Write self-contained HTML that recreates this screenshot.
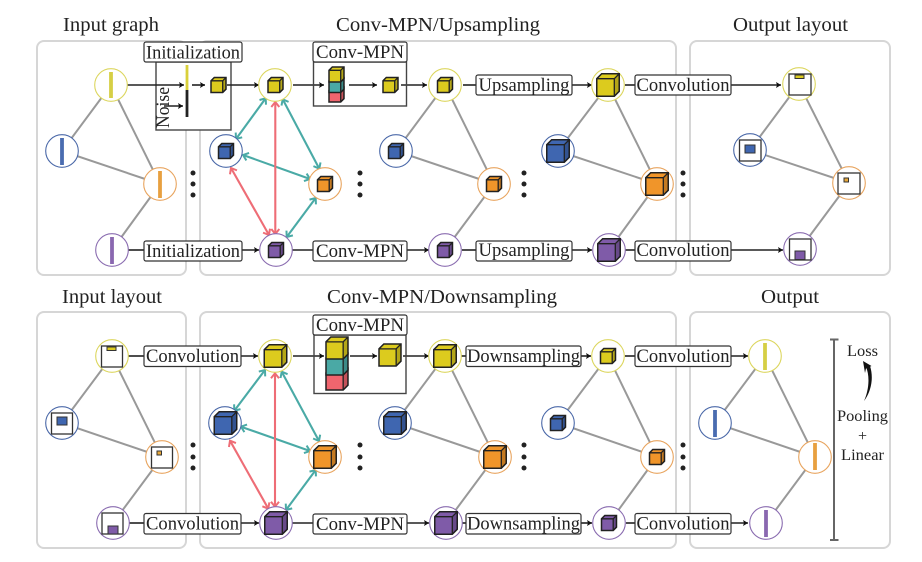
<!DOCTYPE html>
<html><head><meta charset="utf-8"><style>
html,body{margin:0;padding:0;background:#fff}
svg{display:block}
text{font-family:"Liberation Serif",serif;fill:#222}
.t{font-size:20px}.l{font-size:18.5px}.s{font-size:16px}
.p{fill:none;stroke:#d6d6d6;stroke-width:2}
.e{stroke:#999;stroke-width:2;fill:none}
.a{stroke:#222;stroke-width:1.6;fill:none;marker-end:url(#k)}
.n{stroke:#222;stroke-width:1.6;fill:none}
.b{fill:#fff;stroke:#333;stroke-width:1.2}
.tl{stroke:#4aaaa6;stroke-width:2.1;fill:none;marker-start:url(#mt);marker-end:url(#mt)}
.rd{stroke:#ee6d76;stroke-width:2.1;fill:none;marker-start:url(#mr);marker-end:url(#mr)}
.cy{fill:#fff;stroke:#dcd65e;stroke-width:1.1}.cb{fill:#fff;stroke:#4a68a8;stroke-width:1.1}
.co{fill:#fff;stroke:#e8a45e;stroke-width:1.1}.cp{fill:#fff;stroke:#8a6cb0;stroke-width:1.1}
.q{fill:#fff;stroke:#333;stroke-width:1.3}
.i{stroke:#333;stroke-width:1}
</style></head><body>
<svg width="922" height="562" viewBox="0 0 922 562" xmlns="http://www.w3.org/2000/svg">
<defs>
<marker id="k" markerUnits="userSpaceOnUse" markerWidth="10" markerHeight="10" viewBox="-7 -5 10 10" refX="0" refY="0" orient="auto"><path d="M-5,-3 L0,0 L-5,3 L-4,0Z" fill="#111"/></marker>
<marker id="mt" markerUnits="userSpaceOnUse" markerWidth="14" markerHeight="14" viewBox="-8 -7 14 14" refX="0" refY="0" orient="auto-start-reverse"><path d="M-5,-4 L0,0 L-5,4" fill="none" stroke="#4aaaa6" stroke-width="2"/></marker>
<marker id="mr" markerUnits="userSpaceOnUse" markerWidth="14" markerHeight="14" viewBox="-8 -7 14 14" refX="0" refY="0" orient="auto-start-reverse"><path d="M-5,-4 L0,0 L-5,4" fill="none" stroke="#ee6d76" stroke-width="2"/></marker>
<g id="c">
<path d="M-.5,-.28 L-.28,-.5 L.5,-.5 L.5,.28 L.28,.5 L-.5,.5Z" stroke="#222" stroke-width="1.5" vector-effect="non-scaling-stroke"/>
<path d="M.28,-.28 L.5,-.5 L.5,.28 L.28,.5Z" fill="#000" fill-opacity=".18"/>
<path d="M-.5,-.28 L.28,-.28 L.28,.5 M.28,-.28 L.5,-.5" fill="none" stroke="#222" stroke-width="1.3" vector-effect="non-scaling-stroke"/>
</g>
</defs>
<rect width="922" height="562" fill="#fff"/>

<!-- panels -->
<rect class="p" x="37" y="41" width="149" height="234" rx="7"/>
<rect class="p" x="200" y="41" width="476" height="234" rx="7"/>
<rect class="p" x="690" y="41" width="200" height="234" rx="7"/>
<rect class="p" x="37" y="312" width="149" height="236" rx="7"/>
<rect class="p" x="200" y="312" width="476" height="236" rx="7"/>
<rect class="p" x="690" y="312" width="200" height="236" rx="7"/>

<!-- titles -->
<text class="t" x="63" y="31" textLength="96" lengthAdjust="spacingAndGlyphs">Input graph</text>
<text class="t" x="336" y="31" textLength="204" lengthAdjust="spacingAndGlyphs">Conv-MPN/Upsampling</text>
<text class="t" x="733" y="31" textLength="115" lengthAdjust="spacingAndGlyphs">Output layout</text>
<text class="t" x="62" y="303" textLength="100" lengthAdjust="spacingAndGlyphs">Input layout</text>
<text class="t" x="327" y="303" textLength="230" lengthAdjust="spacingAndGlyphs">Conv-MPN/Downsampling</text>
<text class="t" x="761" y="303" textLength="58" lengthAdjust="spacingAndGlyphs">Output</text>

<!-- graph edges -->
<path class="e" d="M111,85L62,151L160,184L111,85M160,184L112,250"/>
<path class="e" d="M445,85L396,151L494,184L445,85M494,184L445,250"/>
<path class="e" d="M608,85L558,151L657,184L608,85M657,184L609,250"/>
<path class="e" d="M799,84L750,150L849,183L799,84M849,183L800,249"/>
<path class="e" d="M112,356L62,423L162,457L112,356M162,457L113,523"/>
<path class="e" d="M445,356L395,423L495,457L445,356M495,457L446,523"/>
<path class="e" d="M608,356L558,423L657,457L608,356M657,457L609,523"/>
<path class="e" d="M765,356L715,423L815,457L765,356M815,457L766,523"/>

<!-- top straight connectors -->
<path class="a" d="M293,85H324"/><path class="a" d="M349,85H377"/><path class="a" d="M401,85H427"/>
<path class="n" d="M463,85H476"/><path class="a" d="M572,85H592"/><path class="n" d="M625,85H635"/><path class="a" d="M731,85H781"/>
<path class="n" d="M128,250H144"/><path class="a" d="M242,250H259"/><path class="n" d="M292,250H313"/><path class="a" d="M407,250H429"/>
<path class="n" d="M462,250H476"/><path class="a" d="M572,250H592"/><path class="n" d="M625,250H635"/><path class="a" d="M731,250H783"/>
<!-- bottom straight connectors -->
<path class="n" d="M128,356H144"/><path class="a" d="M241,356H258"/><path class="a" d="M293,356H324"/><path class="a" d="M350,356H377"/><path class="a" d="M403,356H429"/>
<path class="n" d="M461,356H466"/><path class="a" d="M581,356H591"/><path class="n" d="M625,356H635"/><path class="a" d="M731,356H748"/>
<path class="n" d="M129,523H144"/><path class="a" d="M241,523H259"/><path class="n" d="M292,523H313"/><path class="a" d="M407,523H429"/>
<path class="n" d="M461,523H466"/><path class="a" d="M581,523H592"/><path class="n" d="M626,523H635"/><path class="a" d="M731,523H748"/>

<!-- init + conv-mpn boxes -->
<rect x="156" y="62" width="75" height="68" fill="#fff" stroke="#444" stroke-width="1.4"/>
<path d="M187,65V90" stroke="#d9d03a" stroke-width="2.8"/><path d="M187,90V117" stroke="#222" stroke-width="2.8"/>
<path class="a" d="M192,85H205"/><path class="a" d="M164,106H183"/><path class="a" d="M127,85H184"/><path class="a" d="M227,85H259"/>
<text class="l" transform="translate(169,128) rotate(-90)" textLength="41" lengthAdjust="spacingAndGlyphs">Noise</text>
<rect x="313.500" y="62" width="93" height="44" fill="none" stroke="#444" stroke-width="1.4"/>
<rect x="314" y="335" width="92" height="58.500" fill="none" stroke="#444" stroke-width="1.4"/>

<!-- message arrows -->
<path class="tl" d="M265.700,98.300L236,139"/><path class="tl" d="M282.700,99.300L319.300,168.700"/><path class="tl" d="M243,155L310,179"/><path class="tl" d="M315.700,198L286.700,237"/>
<path class="rd" d="M275.300,102V234"/><path class="rd" d="M231,168L269,235"/>
<path class="tl" d="M265,370L234.300,410.700"/><path class="tl" d="M281.700,371.700L319,441"/><path class="tl" d="M241,426.700L310,451"/><path class="tl" d="M315.700,470L286,510"/>
<path class="rd" d="M275,373.300V506.700"/><path class="rd" d="M230,440.700L268.300,508.700"/>

<!-- labels -->
<g>
<rect class="b" x="144" y="42" width="98" height="20" rx="2"/><text class="l" x="146" y="58.500" textLength="94" lengthAdjust="spacingAndGlyphs">Initialization</text>
<rect class="b" x="313" y="42" width="94" height="20" rx="2"/><text class="l" x="316" y="58" textLength="88" lengthAdjust="spacingAndGlyphs">Conv-MPN</text>
<rect class="b" x="476" y="75" width="96" height="20" rx="2"/><text class="l" x="478.500" y="91" textLength="91" lengthAdjust="spacingAndGlyphs">Upsampling</text>
<rect class="b" x="635" y="75" width="96" height="20" rx="2"/><text class="l" x="636.500" y="91" textLength="93" lengthAdjust="spacingAndGlyphs">Convolution</text>
<rect class="b" x="144" y="241" width="98" height="20" rx="2"/><text class="l" x="146" y="257" textLength="94" lengthAdjust="spacingAndGlyphs">Initialization</text>
<rect class="b" x="313" y="241" width="94" height="20" rx="2"/><text class="l" x="316" y="257" textLength="88" lengthAdjust="spacingAndGlyphs">Conv-MPN</text>
<rect class="b" x="476" y="241" width="96" height="20" rx="2"/><text class="l" x="478.500" y="256" textLength="91" lengthAdjust="spacingAndGlyphs">Upsampling</text>
<rect class="b" x="635" y="241" width="96" height="20" rx="2"/><text class="l" x="636.500" y="256" textLength="93" lengthAdjust="spacingAndGlyphs">Convolution</text>

<rect class="b" x="144" y="346" width="97" height="20.500" rx="2"/><text class="l" x="146" y="362" textLength="93" lengthAdjust="spacingAndGlyphs">Convolution</text>
<rect class="b" x="313" y="315" width="94" height="20" rx="2"/><text class="l" x="316" y="331" textLength="88" lengthAdjust="spacingAndGlyphs">Conv-MPN</text>
<rect class="b" x="466" y="346" width="115" height="20.500" rx="2"/><text class="l" x="467" y="362" textLength="113" lengthAdjust="spacingAndGlyphs">Downsampling</text>
<rect class="b" x="635" y="346" width="96" height="20.500" rx="2"/><text class="l" x="636.500" y="362" textLength="93" lengthAdjust="spacingAndGlyphs">Convolution</text>
<rect class="b" x="144" y="513.500" width="97" height="20.500" rx="2"/><text class="l" x="146" y="529.500" textLength="93" lengthAdjust="spacingAndGlyphs">Convolution</text>
<rect class="b" x="313" y="514" width="94" height="20" rx="2"/><text class="l" x="316" y="530" textLength="88" lengthAdjust="spacingAndGlyphs">Conv-MPN</text>
<rect class="b" x="466" y="513.500" width="115" height="20.500" rx="2"/><text class="l" x="467" y="529.500" textLength="113" lengthAdjust="spacingAndGlyphs">Downsampling</text>
<rect class="b" x="635" y="513.500" width="96" height="20.500" rx="2"/><text class="l" x="636.500" y="529.500" textLength="93" lengthAdjust="spacingAndGlyphs">Convolution</text>
</g>

<!-- top input graph nodes -->
<circle class="cy" cx="111" cy="85" r="16.300"/><path d="M111,72V98" stroke="#d6cf45" stroke-width="3.800"/>
<circle class="cb" cx="62" cy="151" r="16.300"/><path d="M62,138V165" stroke="#4a6cb0" stroke-width="3.800"/>
<circle class="co" cx="160" cy="184" r="16.300"/><path d="M160,171V198" stroke="#e8a040" stroke-width="3.800"/>
<circle class="cp" cx="112" cy="250" r="16.300"/><path d="M112,237V264" stroke="#8a68b0" stroke-width="3.800"/>

<!-- conv graphs: circles -->
<g>
<circle class="cy" cx="275" cy="85" r="16.300"/><circle class="cb" cx="226" cy="151" r="16.300"/><circle class="co" cx="325" cy="184" r="16.300"/><circle class="cp" cx="276" cy="250" r="16.300"/>
<circle class="cy" cx="445" cy="85" r="16.300"/><circle class="cb" cx="396" cy="151" r="16.300"/><circle class="co" cx="494" cy="184" r="16.300"/><circle class="cp" cx="445" cy="250" r="16.300"/>
<circle class="cy" cx="608" cy="85" r="16.300"/><circle class="cb" cx="558" cy="151" r="16.300"/><circle class="co" cx="657" cy="184" r="16.300"/><circle class="cp" cx="609" cy="250" r="16.300"/>
<circle class="cy" cx="275" cy="356" r="16.300"/><circle class="cb" cx="225" cy="423" r="16.300"/><circle class="co" cx="325" cy="457" r="16.300"/><circle class="cp" cx="276" cy="523" r="16.300"/>
<circle class="cy" cx="445" cy="356" r="16.300"/><circle class="cb" cx="395" cy="423" r="16.300"/><circle class="co" cx="495" cy="457" r="16.300"/><circle class="cp" cx="446" cy="523" r="16.300"/>
<circle class="cy" cx="608" cy="356" r="16.300"/><circle class="cb" cx="558" cy="423" r="16.300"/><circle class="co" cx="657" cy="457" r="16.300"/><circle class="cp" cx="609" cy="523" r="16.300"/>
</g>

<!-- cubes -->
<g>
<use href="#c" transform="translate(218.500,85) scale(15)" fill="#dccb1e"/>
<use href="#c" transform="translate(275.500,85) scale(15)" fill="#dccb1e"/>
<use href="#c" transform="translate(226,151) scale(15)" fill="#3f66b0"/>
<use href="#c" transform="translate(325,184) scale(15)" fill="#f0952a"/>
<use href="#c" transform="translate(276,250) scale(15)" fill="#7f5ba8"/>
<use href="#c" transform="translate(336.500,94.500) scale(15)" fill="#f0656e"/>
<use href="#c" transform="translate(336.500,85) scale(15)" fill="#4aa9a5"/>
<use href="#c" transform="translate(336.500,74.500) scale(15)" fill="#dccb1e"/>
<use href="#c" transform="translate(390.500,85) scale(15)" fill="#dccb1e"/>
<use href="#c" transform="translate(445,85) scale(15)" fill="#dccb1e"/>
<use href="#c" transform="translate(396,151) scale(15)" fill="#3f66b0"/>
<use href="#c" transform="translate(494,184) scale(15)" fill="#f0952a"/>
<use href="#c" transform="translate(445,250) scale(15)" fill="#7f5ba8"/>
<use href="#c" transform="translate(608,85) scale(22.500)" fill="#dccb1e"/>
<use href="#c" transform="translate(558,151) scale(22.500)" fill="#3f66b0"/>
<use href="#c" transform="translate(657,184) scale(22.500)" fill="#f0952a"/>
<use href="#c" transform="translate(609,250) scale(22.500)" fill="#7f5ba8"/>

<use href="#c" transform="translate(275.500,356) scale(22.500)" fill="#dccb1e"/>
<use href="#c" transform="translate(225.500,423) scale(22.500)" fill="#3f66b0"/>
<use href="#c" transform="translate(325,457) scale(22.500)" fill="#f0952a"/>
<use href="#c" transform="translate(276,523) scale(22.500)" fill="#7f5ba8"/>
<use href="#c" transform="translate(337,379) scale(22)" fill="#f0656e"/>
<use href="#c" transform="translate(337,364) scale(22)" fill="#4aa9a5"/>
<use href="#c" transform="translate(337,348) scale(22)" fill="#dccb1e"/>
<use href="#c" transform="translate(390,355) scale(22)" fill="#dccb1e"/>
<use href="#c" transform="translate(445,356) scale(22.500)" fill="#dccb1e"/>
<use href="#c" transform="translate(395,423) scale(22.500)" fill="#3f66b0"/>
<use href="#c" transform="translate(495,457) scale(22.500)" fill="#f0952a"/>
<use href="#c" transform="translate(446,523) scale(22.500)" fill="#7f5ba8"/>
<use href="#c" transform="translate(608,356) scale(15)" fill="#dccb1e"/>
<use href="#c" transform="translate(558,423) scale(15)" fill="#3f66b0"/>
<use href="#c" transform="translate(657,457) scale(15)" fill="#f0952a"/>
<use href="#c" transform="translate(609,523) scale(15)" fill="#7f5ba8"/>
</g>

<!-- output layout -->
<circle class="cy" cx="799" cy="84" r="16.300"/><rect class="q" x="789" y="74" width="22" height="21"/><rect class="i" x="795" y="75" width="9" height="3.500" fill="#dccb1e"/>
<circle class="cb" cx="750" cy="150" r="16.300"/><rect class="q" x="739.500" y="140" width="21.500" height="21"/><rect class="i" x="745" y="145" width="10" height="8" fill="#3f66b0"/>
<circle class="co" cx="849" cy="183" r="16.300"/><rect class="q" x="838" y="173" width="22" height="21"/><rect class="i" x="844" y="178" width="4.500" height="4" fill="#e8a83a"/>
<circle class="cp" cx="800" cy="249" r="16.300"/><rect class="q" x="789.500" y="239" width="21.500" height="21"/><rect class="i" x="795" y="251" width="10" height="8.500" fill="#7f5ba8"/>

<!-- input layout -->
<circle class="cy" cx="112" cy="356" r="16.300"/><rect class="q" x="101.500" y="346" width="21" height="21"/><rect class="i" x="107" y="347" width="9" height="3.500" fill="#dccb1e"/>
<circle class="cb" cx="62" cy="423" r="16.300"/><rect class="q" x="51.500" y="413" width="21" height="21"/><rect class="i" x="57" y="417" width="10" height="8" fill="#3f66b0"/>
<circle class="co" cx="162" cy="457" r="16.300"/><rect class="q" x="151.500" y="447" width="21" height="21"/><rect class="i" x="157" y="451" width="4.500" height="4" fill="#e8a83a"/>
<circle class="cp" cx="113" cy="523" r="16.300"/><rect class="q" x="102" y="513" width="21" height="21"/><rect class="i" x="108" y="526" width="10" height="8" fill="#7f5ba8"/>

<!-- output nodes -->
<circle class="cy" cx="765" cy="356" r="16.300"/><path d="M765,343V370" stroke="#d6cf45" stroke-width="3.800"/>
<circle class="cb" cx="715" cy="423" r="16.300"/><path d="M715,410V437" stroke="#4a6cb0" stroke-width="3.800"/>
<circle class="co" cx="815" cy="457" r="16.300"/><path d="M815,443V470" stroke="#e8a040" stroke-width="3.800"/>
<circle class="cp" cx="766" cy="523" r="16.300"/><path d="M766,510V537" stroke="#8a68b0" stroke-width="3.800"/>

<!-- dots -->
<g fill="#222">
<circle cx="193" cy="173" r="2.500"/><circle cx="193" cy="184" r="2.500"/><circle cx="193" cy="195" r="2.500"/>
<circle cx="360" cy="173" r="2.500"/><circle cx="360" cy="184" r="2.500"/><circle cx="360" cy="195" r="2.500"/>
<circle cx="524" cy="173" r="2.500"/><circle cx="524" cy="184" r="2.500"/><circle cx="524" cy="195" r="2.500"/>
<circle cx="683" cy="173" r="2.500"/><circle cx="683" cy="184" r="2.500"/><circle cx="683" cy="195" r="2.500"/>
<circle cx="193" cy="445" r="2.500"/><circle cx="193" cy="457" r="2.500"/><circle cx="193" cy="468" r="2.500"/>
<circle cx="360" cy="445" r="2.500"/><circle cx="360" cy="457" r="2.500"/><circle cx="360" cy="468" r="2.500"/>
<circle cx="524" cy="445" r="2.500"/><circle cx="524" cy="457" r="2.500"/><circle cx="524" cy="468" r="2.500"/>
<circle cx="683" cy="445" r="2.500"/><circle cx="683" cy="457" r="2.500"/><circle cx="683" cy="468" r="2.500"/>
</g>

<!-- right bracket + loss -->
<path d="M834,339.500V540M830,339.500H838.500M830,540H838.500" stroke="#666" stroke-width="2" fill="none"/>
<text class="s" x="847" y="356" textLength="31" lengthAdjust="spacingAndGlyphs">Loss</text>
<text class="s" x="837" y="421" textLength="51" lengthAdjust="spacingAndGlyphs">Pooling</text>
<text class="s" x="858" y="441">+</text>
<text class="s" x="841" y="460" textLength="43" lengthAdjust="spacingAndGlyphs">Linear</text>
<path d="M864,401 C869,390 870,376 866,367 L870,366 C874,378 871,392 864,401Z" fill="#111"/>
<path d="M863,361 L871.500,366 L866,368.500 L865,373Z" fill="#111"/>
</svg>
</body></html>
